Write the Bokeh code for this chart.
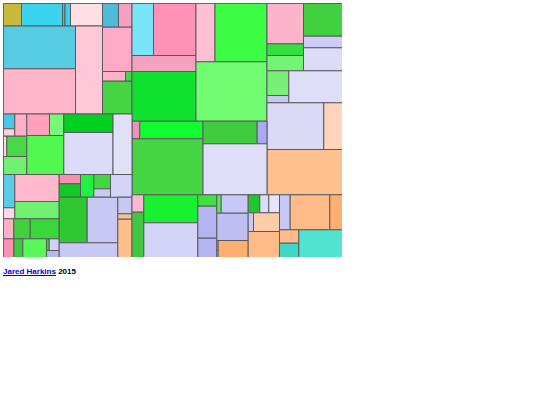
from bokeh.plotting import figure
from bokeh.models import ColumnDataSource, Range1d, Div, GlobalInlineStyleSheet
from bokeh.layouts import column
from bokeh.embed import file_html
from bokeh.resources import INLINE

# Treemap cells (layout units), one entry per leaf
x0 = [3, 21, 62, 64.5, 70, 102, 118, 3, 3, 75, 102, 102, 125, 102, 131.5, 153, 131.5, 131.5,
      195.5, 214.5, 195.5, 266.5, 303, 303, 266.5, 266.5, 303, 266.5, 266.5, 288.3, 266.5, 323.3,
      266.5, 202.3, 256.7, 202.3, 131.5, 139.3, 131.5,
      3, 3, 14.3, 26.3, 49, 3, 6.3, 3, 26.3, 63.3, 63.3, 112.5,
      3, 3, 14.3, 14.3, 3, 3, 13.3, 29.7, 13.3, 22.3, 46, 48.7, 46,
      58.7, 58.7, 80, 93.3, 93.3, 58.7, 86.7, 58.7, 110, 117.3, 117.3, 117.3,
      131.5, 131.5, 143.3, 143.3, 197.3, 197.3, 197.3, 216.3, 220.7, 216.3, 216.3, 216.3, 217.7,
      247.7, 259.3, 268.3, 279, 289.7, 329.3, 247.7, 253, 247.7, 279, 279, 298.3]
x1 = [21, 62, 64.5, 70, 102, 118, 131.5, 75, 75, 102, 131.5, 125, 131.5, 131.5, 153, 195.5, 195.5, 195.5,
      214.5, 266.5, 266.5, 303, 342, 342, 303, 303, 342, 288.3, 288.3, 342, 323.3, 342,
      342, 256.7, 266.5, 266.5, 139.3, 202.3, 202.3,
      14.3, 14.3, 26.3, 49, 63.3, 6.3, 26.3, 26.3, 63.3, 112.5, 112.5, 131.5,
      14.3, 14.3, 58.7, 58.7, 13.3, 13.3, 29.7, 58.7, 22.3, 46, 48.7, 58.7, 58.7,
      80, 80, 93.3, 110, 110, 86.7, 117.3, 117.3, 131.5, 131.5, 131.5, 131.5,
      143.3, 143.3, 197.3, 197.3, 216.3, 216.3, 216.3, 220.7, 247.7, 247.7, 217.7, 217.7, 247.7,
      259.3, 268.3, 279, 289.7, 329.3, 342, 253, 279, 279, 298.3, 298.3, 342]
y0 = [3, 3, 3, 3, 3, 3, 3, 25.5, 68.3, 25.5, 26.7, 71, 71, 80.7, 3, 3, 55, 71,
      3, 3, 61.3, 3, 3, 35.7, 43.3, 55, 47.3, 70.3, 95, 70.3, 102.3, 102.3,
      149, 120.7, 120.7, 143.3, 120.7, 120.7, 138.3,
      113.5, 128.3, 113.5, 113.5, 113.5, 135.7, 135.7, 156, 135, 113.5, 132, 113.5,
      174, 207.3, 174, 201, 218.3, 238.3, 218.3, 218.3, 238.3, 238.3, 238.3, 238.3, 250,
      174, 183.3, 174, 174, 188.3, 196.7, 196.7, 242.3, 174, 196.7, 213.3, 218.7,
      194.3, 211.7, 194.3, 222.3, 194.3, 205.7, 237.7, 194.3, 194.3, 212.7, 240, 250, 240,
      194.3, 194.3, 194.3, 194.3, 194.3, 194.3, 212.3, 212.3, 231, 229.3, 242.7, 229.3]
y1 = [25.5, 25.5, 25.5, 25.5, 25.5, 26.7, 26.7, 68.3, 113.5, 113.5, 71, 80.7, 80.7, 113.5, 55, 55, 71, 120.7,
      61.3, 61.3, 120.7, 43.3, 35.7, 47.3, 55, 70.3, 70.3, 95, 102.3, 102.3, 149, 149,
      194.3, 143.3, 143.3, 194.3, 138.3, 138.3, 194.3,
      128.3, 135.7, 135.7, 135, 135, 156, 156, 174, 174, 132, 174, 174,
      207.3, 218.3, 201, 218.3, 238.3, 257, 238.3, 238.3, 257, 257, 250, 250, 257,
      183.3, 196.7, 196.7, 188.3, 196.7, 242.3, 242.3, 257, 196.7, 213.3, 218.7, 257,
      211.7, 257, 222.3, 257, 205.7, 237.7, 257, 212.7, 212.7, 240, 250, 257, 257,
      212.3, 212.3, 212.3, 229.3, 229.3, 229.3, 231, 231, 257, 242.7, 257, 257]
colors = ["#c9b93c", "#3ad4ef", "#48bcd8", "#3ccfee", "#fde0e6", "#4cbcd8", "#f4a0c0", "#55cbe4", "#ffb6ca",
          "#ffc8d8", "#ffaac6", "#ffb2ca", "#48d448", "#44d444", "#78e4f8", "#ff92b6", "#f4a2be", "#0ee22e",
          "#ffc0d4", "#3cfc44", "#70fc70", "#fcb4ca", "#40d040", "#ccccf4", "#30e040", "#74f474", "#dcdcf8",
          "#78f078", "#c8c8f4", "#dedef8", "#dadaf6", "#ffd4bc", "#ffc090", "#40cc40", "#a8a8f4", "#dedef8",
          "#f090b8", "#12fc32", "#44d444",
          "#48c8e8", "#ffd0dc", "#ffb0c8", "#ffa0bc", "#78f878", "#ffd8e0", "#48d848", "#70f070", "#50f850",
          "#00d020", "#dcdcf8", "#e0e0f8",
          "#58cce8", "#ffd8e4", "#ffb8cc", "#70f070", "#ffb0c8", "#ff90b0", "#40d040", "#38d838", "#40c840",
          "#58f858", "#40d040", "#d0d0f8", "#b8b8f0",
          "#f890b0", "#10c828", "#20f040", "#40d840", "#c8c8f4", "#30c830", "#c8c8f4", "#c8c8f4", "#d4d4f8",
          "#c8c8f4", "#ffc090", "#ffbf8c",
          "#ffb8d0", "#40c840", "#18f030", "#d4d4f8", "#40e040", "#b4b4f0", "#b4b4f0", "#50f050", "#c8c8f8",
          "#bebef4", "#c8c8f8", "#ffd0b0", "#ffb070",
          "#20c830", "#dcdcf8", "#e4e4fc", "#c8c8f8", "#ffbc88", "#ffb070", "#c8c8f8", "#ffcca8", "#ffbc88",
          "#ffbc88", "#40d8c8", "#50e4d0"]

src = ColumnDataSource(dict(left=x0, right=x1, top=y0, bottom=y1, color=colors))

page_css = GlobalInlineStyleSheet(css="body { margin: 3px !important; }")

p = figure(width=339, height=254, output_backend="svg", toolbar_location=None,
           x_range=Range1d(3, 342), y_range=Range1d(257, 3), min_border=0,
           stylesheets=[page_css])
p.axis.visible = False
p.grid.visible = False
p.outline_line_color = "#555555"
p.background_fill_color = "white"
p.quad(left="left", right="right", top="top", bottom="bottom", fill_color="color",
       line_color="#5a5a5a", line_width=1, source=src)

div = Div(text='<a href="#" style="color:#0000ee;text-decoration:underline;">Jared Harkins</a> 2015',
          styles={"font-family": "Liberation Sans, Arial, sans-serif", "font-size": "8px",
                  "font-weight": "bold", "color": "#000000"},
          margin=(9, 0, 0, 0))

layout = column(p, div, spacing=0)
open("out.html", "w").write(file_html(layout, INLINE))
